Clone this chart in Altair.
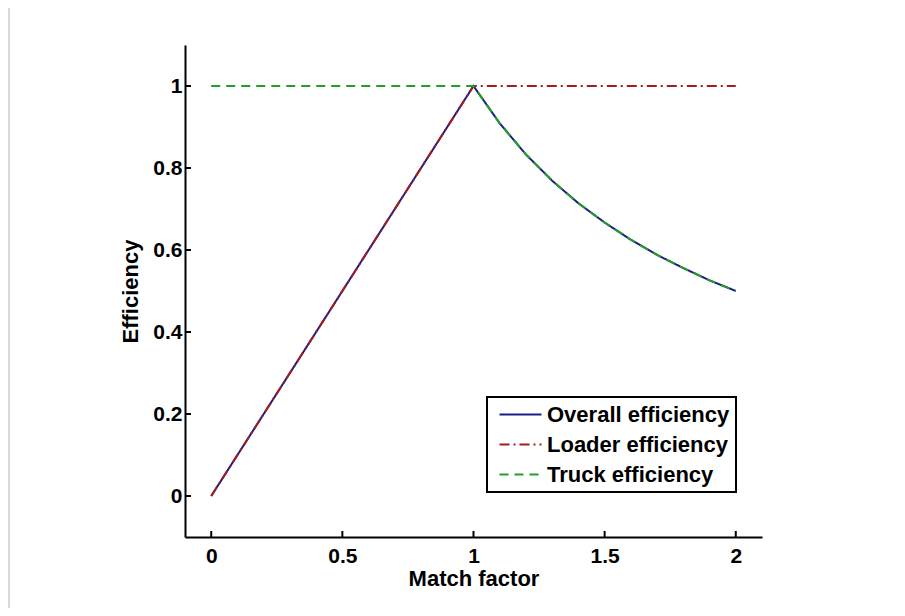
import altair as alt
import pandas as pd

series_names = ["Overall efficiency", "Loader efficiency", "Truck efficiency"]
series_colors = ["#1c1c8c", "#a51c1c", "#22a022"]
series_dashes = [[1, 0], [10, 4, 2, 4], [9, 6]]

overall_x = [0, 1, 1.1, 1.2, 1.3, 1.4, 1.5, 1.6, 1.7, 1.8, 1.9, 2.0]
overall_y = [0, 1, 0.909, 0.833, 0.769, 0.714, 0.667, 0.625, 0.588, 0.556, 0.526, 0.5]

loader_x = [0, 1, 2]
loader_y = [0, 1, 1]

truck_x = [0, 1, 1.1, 1.2, 1.3, 1.4, 1.5, 1.6, 1.7, 1.8, 1.9, 2.0]
truck_y = [1, 1, 0.909, 0.833, 0.769, 0.714, 0.667, 0.625, 0.588, 0.556, 0.526, 0.5]

x_ticks = [0, 0.5, 1, 1.5, 2]
y_ticks = [0, 0.2, 0.4, 0.6, 0.8, 1]

W, H = 577, 492
FONT = "Liberation Sans"
FS = 22
LFS = 21

rows = []
for name, xs, ys in [
    (series_names[0], overall_x, overall_y),
    (series_names[1], loader_x, loader_y),
    (series_names[2], truck_x, truck_y),
]:
    for i, (a, b) in enumerate(zip(xs, ys)):
        rows.append({"series": name, "x": a, "y": b, "order": i})
df = pd.DataFrame(rows)

x_scale = alt.Scale(domain=[-0.1, 2.1], nice=False, zero=False)
y_scale = alt.Scale(domain=[-0.1, 1.1], nice=False, zero=False)

x_axis = alt.Axis(values=x_ticks, format="~g", title="Match factor", ticks=False,
                  grid=False, domainColor="black", domainWidth=2,
                  labelFont=FONT, labelFontSize=LFS, labelFontWeight="bold", labelColor="black",
                  labelPadding=8, titleFont=FONT, titleFontSize=FS, titleFontWeight="bold",
                  titleColor="black", titlePadding=2)
y_axis = alt.Axis(values=y_ticks, format="~g", title="Efficiency", ticks=False,
                  grid=False, domainColor="black", domainWidth=2,
                  labelFont=FONT, labelFontSize=LFS, labelFontWeight="bold", labelColor="black",
                  labelPadding=3, titleFont=FONT, titleFontSize=FS, titleFontWeight="bold",
                  titleColor="black", titlePadding=10)

def make_legend():
    return alt.Legend(title=None, orient="none", legendX=302, legendY=352,
                      symbolType="M-2,0H2", symbolSize=441, symbolStrokeWidth=2,
                      symbolOffset=16,
                      labelFont=FONT, labelFontSize=FS, labelFontWeight="bold",
                      labelColor="black", labelOffset=15, rowPadding=7,
                      padding=6, strokeColor="black", fillColor="white",
                      labelLimit=400)

color_enc = alt.Color("series:N", sort=series_names,
                      scale=alt.Scale(domain=series_names, range=series_colors),
                      legend=make_legend())
dash_enc = alt.StrokeDash("series:N", sort=series_names,
                          scale=alt.Scale(domain=series_names, range=series_dashes),
                          legend=make_legend())

base = alt.Chart(df).mark_line(strokeWidth=2).encode(
    x=alt.X("x:Q", scale=x_scale, axis=x_axis),
    y=alt.Y("y:Q", scale=y_scale, axis=y_axis),
    color=color_enc,
    strokeDash=dash_enc,
    order="order:Q",
)

layers = [base.transform_filter(alt.datum.series == s) for s in series_names]

xt = alt.Chart(pd.DataFrame({"t": x_ticks})).mark_rule(color="black", strokeWidth=2).encode(
    x=alt.X("t:Q", scale=x_scale), y=alt.value(H), y2=alt.value(H - 6))
yt = alt.Chart(pd.DataFrame({"t": y_ticks})).mark_rule(color="black", strokeWidth=2).encode(
    y=alt.Y("t:Q", scale=y_scale), x=alt.value(0), x2=alt.value(6))

frame = alt.Chart(pd.DataFrame({"a": [0]})).mark_rule(color="#d9d9d9", strokeWidth=2).encode(
    x=alt.value(-176), y=alt.value(-37), y2=alt.value(H + 71))

chart = alt.layer(frame, *layers, xt, yt).properties(
    width=W, height=H,
    autosize=alt.AutoSizeParams(type="none"),
    padding={"left": 177, "top": 37, "right": 135, "bottom": 71},
).configure_view(stroke=None).configure_legend(strokeWidth=2)

chart.save("out.html", embed_options={"renderer": "svg", "actions": False})
